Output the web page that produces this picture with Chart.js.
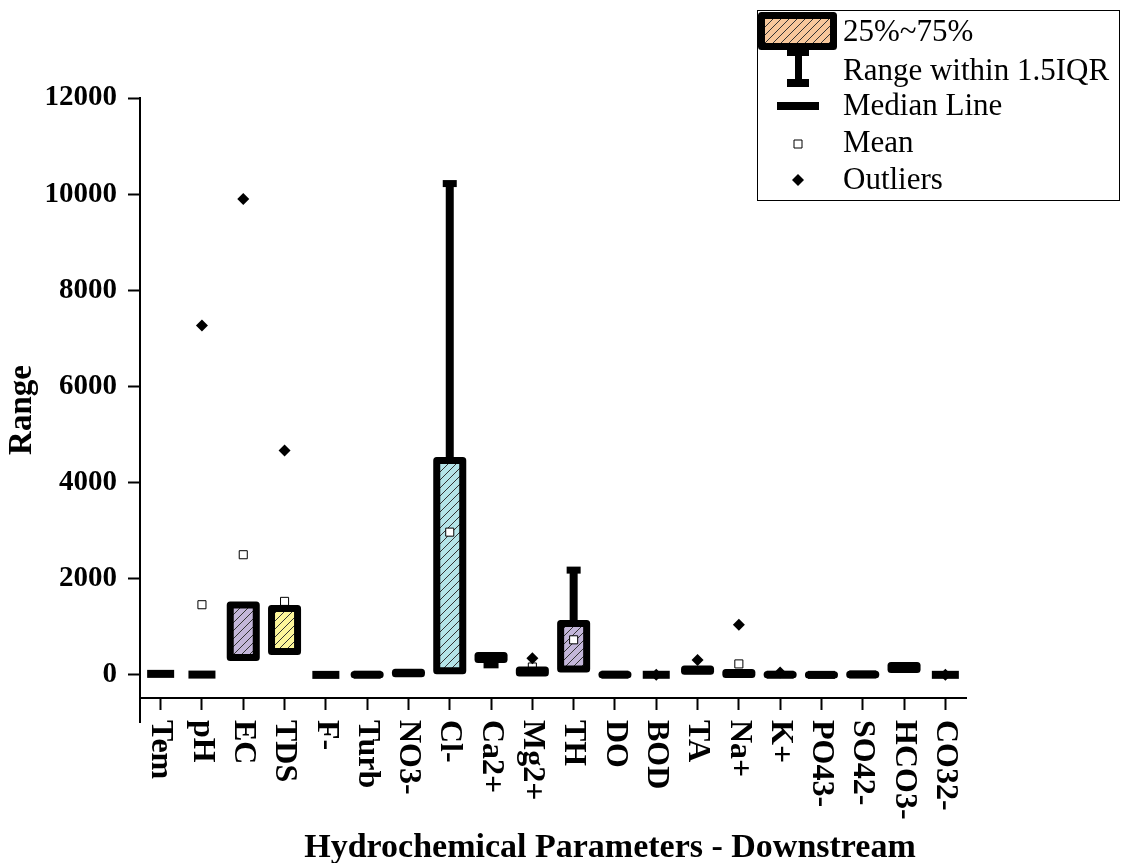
<!DOCTYPE html>
<html>
<head>
<meta charset="utf-8">
<title>Hydrochemical Parameters - Downstream</title>
<script src="https://cdn.jsdelivr.net/npm/chart.js@4.4.1/dist/chart.umd.min.js"></script>
<style>
  html, body { margin: 0; padding: 0; background: #fff; }
  #wrap { width: 1124px; height: 863px; position: relative; }
</style>
</head>
<body>
<div id="wrap"><canvas id="chart"></canvas></div>
<script>
// values
const labels = ['Tem', 'pH', 'EC', 'TDS', 'F-', 'Turb', 'NO3-', 'Cl-', 'Ca2+', 'Mg2+',
                'TH', 'DO', 'BOD', 'TA', 'Na+', 'K+', 'PO43-', 'SO42-', 'HCO3-', 'CO32-'];
const q1       = [22, 7, 365, 485, 1, 2, 23, 85, 323, 42, 125, 4, 3, 76, 10, 2, 0.5, 5, 115, 2];
const q3       = [22, 7, 1455, 1380, 1, 10, 58, 4460, 406, 104, 1070, 9, 3, 124, 50, 9, 1.5, 15, 198, 2];
const medians  = [22, 7, 600, 700, 1, 5, 40, 500, 360, 70, 400, 6, 3, 100, 25, 5, 1, 10, 150, 2];
const whiskLo  = [22, 7, 365, 485, 1, 2, 23, 85, 210, 42, 125, 4, 3, 76, 10, 2, 0.5, 5, 115, 2];
const whiskHi  = [22, 7, 1455, 1380, 1, 10, 58, 10220, 406, 104, 2180, 9, 3, 124, 50, 9, 1.5, 15, 198, 2];
const means    = [null, 1460, 2500, 1530, null, null, null, 2970, null, 165,
                  730, null, null, null, 229, null, null, null, null, null];
const outliers = [null, 7270, 9900, 4670, null, null, null, null, null, 347,
                  null, null, 6, 310, 1045, 50, null, null, null, 6];
const yTicks = [0, 2000, 4000, 6000, 8000, 10000, 12000];
const legendItems = ['25%~75%', 'Range within 1.5IQR', 'Median Line', 'Mean', 'Outliers'];

const boxColors = ['#f7c79b', '#b4e4e8', '#c3b6d9', '#fdf69a', '#b4e4e8', '#c3b6d9', '#f7c79b',
                   '#b4e4e8', '#c3b6d9', '#fdf69a', '#c3b6d9', '#b4e4e8', '#f7c79b', '#fdf69a',
                   '#c3b6d9', '#b4e4e8', '#f7c79b', '#fdf69a', '#c3b6d9', '#b4e4e8'];

const SERIF = "'Liberation Serif', 'Times New Roman', serif";

function hatch(color) {
    const c = document.createElement('canvas');
    c.width = 8; c.height = 8;
    const g = c.getContext('2d');
    g.fillStyle = color;
    g.fillRect(0, 0, 8, 8);
    g.strokeStyle = '#333';
    g.lineWidth = 1;
    g.beginPath();
    g.moveTo(0, 8); g.lineTo(8, 0);
    g.moveTo(-2, 2); g.lineTo(2, -2);
    g.moveTo(6, 10); g.lineTo(10, 6);
    g.stroke();
    return g.createPattern(c, 'repeat');
}

const boxPlugin = {
    id: 'boxes',
    beforeDatasetsDraw(chart) {
        const ctx = chart.ctx, x = chart.scales.x, y = chart.scales.y;
        ctx.save();
        ctx.fillStyle = '#000';
        medians.forEach((m, i) => {
            const px = x.getPixelForValue(i), py = y.getPixelForValue(m);
            ctx.fillRect(px - 13.5, py - 4, 27, 8);
        });
        ctx.restore();
    },
    afterDatasetsDraw(chart) {
        const ctx = chart.ctx, y = chart.scales.y;
        const meta = chart.getDatasetMeta(0);
        ctx.save();
        ctx.fillStyle = '#000';
        ctx.strokeStyle = '#000';
        meta.data.forEach((bar, i) => {
            const p = bar.getProps(['x', 'y', 'base', 'width'], true);
            const top = Math.min(p.y, p.base), bot = Math.max(p.y, p.base);
            // whiskers
            if (whiskHi[i] > q3[i]) {
                const hy = y.getPixelForValue(whiskHi[i]);
                ctx.fillRect(p.x - 4, hy, 8, top - hy);
                ctx.fillRect(p.x - 7, hy - 3.5, 14, 7);
            }
            if (whiskLo[i] < q1[i]) {
                const ly = y.getPixelForValue(whiskLo[i]);
                ctx.fillRect(p.x - 4, bot, 8, ly - bot);
                ctx.fillRect(p.x - 7.5, ly - 3.5, 15, 7);
            }
            // box outline
            if (q3[i] > q1[i]) {
                ctx.lineWidth = 7;
                ctx.lineJoin = 'round';
                ctx.strokeRect(p.x - p.width / 2, top, p.width, bot - top);
            }
        });
        ctx.restore();
    },
    afterDraw(chart) {
        const ctx = chart.ctx, x = chart.scales.x, y = chart.scales.y;
        const area = chart.chartArea;
        ctx.save();
        // y axis runs on below the x axis
        ctx.strokeStyle = '#000';
        ctx.lineWidth = 2;
        ctx.beginPath();
        ctx.moveTo(area.left, area.bottom);
        ctx.lineTo(area.left, y.getPixelForValue(-1000));
        ctx.stroke();

        // category labels, turned clockwise
        ctx.fillStyle = '#000';
        ctx.font = 'bold 32px ' + SERIF;
        ctx.textAlign = 'left';
        ctx.textBaseline = 'middle';
        labels.forEach((lab, i) => {
            ctx.save();
            ctx.translate(x.getPixelForTick(i), 720);
            ctx.rotate(Math.PI / 2);
            ctx.fillText(lab, 0, 0);
            ctx.restore();
        });

        // axis titles
        ctx.font = 'bold 34px ' + SERIF;
        ctx.textAlign = 'center';
        ctx.textBaseline = 'alphabetic';
        ctx.fillText('Hydrochemical Parameters - Downstream', 610, 857);
        ctx.save();
        ctx.translate(22, 410);
        ctx.rotate(-Math.PI / 2);
        ctx.font = 'bold 33px ' + SERIF;
        ctx.textBaseline = 'middle';
        ctx.fillText('Range', 0, 0);
        ctx.restore();

        // legend
        ctx.lineWidth = 1;
        ctx.strokeRect(757.5, 10.5, 362, 190);
        ctx.fillStyle = hatch('#f7c79b');
        ctx.fillRect(761, 15, 73, 32);
        ctx.lineWidth = 7;
        ctx.lineJoin = 'round';
        ctx.strokeRect(761.5, 15.5, 72, 31);
        ctx.fillStyle = '#000';
        ctx.fillRect(787, 50, 22, 6);
        ctx.fillRect(795, 50, 7, 36);
        ctx.fillRect(787, 79, 22, 8);
        ctx.fillRect(777, 102, 42, 8);
        ctx.fillStyle = '#fff';
        ctx.lineWidth = 1;
        ctx.fillRect(794, 140, 8, 8);
        ctx.strokeRect(794, 140, 8, 8);
        ctx.fillStyle = '#000';
        ctx.beginPath();
        ctx.moveTo(798, 174); ctx.lineTo(804, 180); ctx.lineTo(798, 186); ctx.lineTo(792, 180);
        ctx.closePath();
        ctx.fill();
        ctx.font = '31px ' + SERIF;
        ctx.textAlign = 'left';
        ctx.textBaseline = 'middle';
        const rows = [33, 72, 107, 144, 181];
        legendItems.forEach((t, i) => ctx.fillText(t, 843, rows[i]));
        ctx.restore();
    }
};

Chart.defaults.font.family = SERIF;
Chart.defaults.color = '#000';

new Chart(document.getElementById('chart'), {
    type: 'bar',
    data: {
        labels: labels,
        datasets: [{
            label: '25%~75%',
            data: labels.map((_, i) => [q1[i], q3[i]]),
            backgroundColor: boxColors.map(hatch),
            borderWidth: 0,
            barPercentage: 0.63,
            categoryPercentage: 1,
            order: 3
        }, {
            type: 'line',
            label: 'Mean',
            data: means,
            showLine: false,
            pointStyle: 'rect',
            pointRadius: 5.7,
            pointBackgroundColor: '#fff',
            pointBorderColor: '#000',
            pointBorderWidth: 1,
            order: 2
        }, {
            type: 'line',
            label: 'Outliers',
            data: outliers,
            showLine: false,
            pointStyle: 'rectRot',
            pointRadius: 6,
            pointBackgroundColor: '#000',
            pointBorderColor: '#000',
            pointBorderWidth: 0,
            order: 1
        }]
    },
    options: {
        responsive: true,
        maintainAspectRatio: false,
        animation: false,
        layout: { padding: { top: 98, right: 158, bottom: 0, left: 0 } },
        plugins: {
            legend: { display: false },
            tooltip: { enabled: false }
        },
        scales: {
            x: {
                type: 'category',
                offset: true,
                grid: { offset: false, drawOnChartArea: false, drawTicks: true, tickLength: 12, tickWidth: 2, tickColor: '#000' },
                border: { display: true, color: '#000', width: 2 },
                ticks: { display: false },
                afterFit: (s) => { s.height = 165; }
            },
            y: {
                min: -480,
                max: 12000,
                afterBuildTicks: (s) => { s.ticks = yTicks.map(v => ({ value: v })); },
                grid: { drawOnChartArea: false, tickLength: 12, tickWidth: 2, tickColor: '#000' },
                border: { display: true, color: '#000', width: 2 },
                ticks: {
                    font: { size: 29, weight: 'bold' },
                    padding: 11,
                    color: '#000',
                    callback: (v) => String(v)
                },
                afterFit: (s) => { s.width = 140; }
            }
        }
    },
    plugins: [boxPlugin]
});
</script>
</body>
</html>
